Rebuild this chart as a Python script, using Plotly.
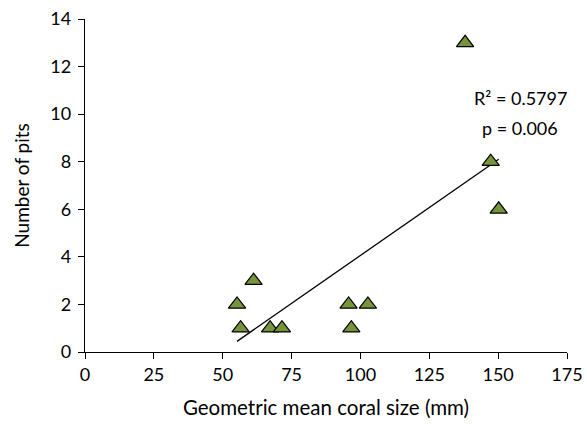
import numpy as np
import plotly.graph_objects as go

coral_size = [55.2, 56.5, 61.2, 67.2, 71.5, 95.7, 96.7, 102.7, 138.0, 147.3, 150.2]
num_pits = [2, 1, 3, 1, 1, 2, 1, 2, 13, 8, 6]
x_ticks = [0, 25, 50, 75, 100, 125, 150, 175]
y_ticks = [0, 2, 4, 6, 8, 10, 12, 14]
stats_text = ["R² = 0.5797", "p = 0.006"]

xa = np.array(coral_size)
ya = np.array(num_pits, dtype=float)
slope, intercept = np.polyfit(xa, ya, 1)
fit_x = [xa.min(), xa.max()]
fit_y = [slope * v + intercept for v in fit_x]

font = "Lato, Open Sans, sans-serif"

fig = go.Figure()
fig.add_trace(go.Scatter(x=fit_x, y=fit_y, mode="lines",
                         line=dict(color="black", width=1.3), hoverinfo="skip"))
fig.add_trace(go.Scatter(x=coral_size, y=num_pits, mode="markers",
                         marker=dict(symbol="triangle-up", size=15, color="#77933C",
                                     line=dict(color="black", width=1.2))))

fig.add_annotation(x=158, y=10.67, text=stats_text[0], showarrow=False,
                   font=dict(family=font, size=18, color="black"))
fig.add_annotation(x=158, y=9.41, text=stats_text[1], showarrow=False,
                   font=dict(family=font, size=18, color="black"))

fig.update_layout(
    width=587, height=424,
    margin=dict(l=85, r=20, t=19, b=72),
    paper_bgcolor="white", plot_bgcolor="white",
    showlegend=False,
    font=dict(family=font, size=17, color="black"),
    xaxis=dict(range=[0, 175], tickvals=x_ticks, showgrid=False, zeroline=False,
               automargin=False,
               showline=True, linecolor="black", linewidth=1.3,
               ticks="outside", ticklen=6, tickcolor="black", tickwidth=1.3,
               title=dict(text="Geometric mean coral size (mm)", font=dict(size=20.5), standoff=16),
               tickfont=dict(size=18)),
    yaxis=dict(range=[0, 14], tickvals=y_ticks, showgrid=False, zeroline=False,
               automargin=False,
               showline=True, linecolor="black", linewidth=1.3,
               ticks="outside", ticklen=6, tickcolor="black", tickwidth=1.3,
               ticklabelstandoff=3,
               title=dict(text="Number of pits", font=dict(size=19), standoff=15),
               tickfont=dict(size=18)),
)

fig.write_html("out.html", config={"displayModeBar": False},
               post_script="document.body.style.margin='0px';document.body.style.overflow='hidden';")
